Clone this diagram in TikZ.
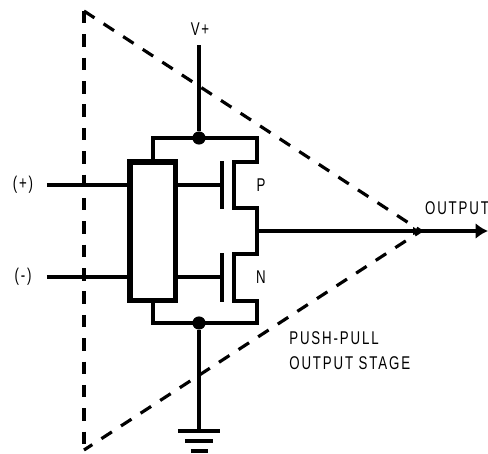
\documentclass[tikz,border=0pt]{standalone}
\usepackage{fontspec}
\setmainfont[FakeStretch=0.72,LetterSpace=10]{Liberation Sans}
\usetikzlibrary{arrows.meta}
\tikzset{
  wire/.style={line width=1.8pt},
  gatebar/.style={line width=2.1pt},
  ampbox/.style={line width=2.9pt},
  stagedash/.style={line width=1.8pt,dash pattern=on 7.1pt off 6.2pt},
  junction/.style={circle,fill=black,inner sep=0pt,minimum size=7.5pt},
  label/.style={inner sep=0pt,font=\fontsize{10.5}{14.2}\selectfont,align=left}
}
\begin{document}
\begin{tikzpicture}[>=latex,x=0.02cm,y=-0.02cm]
\useasboundingbox (0,0) rectangle (488,454);
\coordinate (A1) at (84,11);
\coordinate (A2) at (84,450);
\coordinate (A3) at (421,231);
\coordinate (B1) at (130,162);
\coordinate (B2) at (175.5,300.5);
\coordinate (IP) at (47,185);
\coordinate (IP1) at (130,185);
\coordinate (IN) at (47,277);
\coordinate (IN1) at (130,277);
\coordinate (V1) at (199,45);
\coordinate (Z1) at (178,431);
\coordinate (Z2) at (220,431);
\coordinate (Z3) at (185,441);
\coordinate (Z4) at (213,441);
\coordinate (Z5) at (191,451);
\coordinate (Z6) at (208,451);
\coordinate (Z0) at (199,431);
\coordinate (O0) at (257,231);
\coordinate (O1) at (488,231);
\node[label] (Lv) at (200,29) {V+};
\node[label] (Lp) at (23,185) {(+)};
\node[label] (Ln) at (23,277) {(-)};
\node[label] (Lo) at (457,208) {OUTPUT};
\node[label] (Lpm) at (261,185) {P};
\node[label] (Lnm) at (261,277) {N};
\node[label,anchor=north west] (Ls) at (289,331) {PUSH-PULL\\OUTPUT STAGE};
% output stage outline
\draw[stagedash] (A1) -- (A2);
\draw[stagedash] (A1) -- (A3) -- (A2);
% amplifier
\draw[ampbox,fill=white] (B1) rectangle (B2);
\draw[wire] (IP) -- (IP1);
\draw[wire] (IN) -- (IN1);
% rails
\node[junction] (JP) at (199,138) {};
\node[junction] (JN) at (199,323) {};
\draw[wire] (V1) -- (JP);
\draw[wire] (JN) -- (Z0);
\draw[wire] (153,162) |- (JP.center) -| (257,162) -- (234,162) -- (234,208) -- (257,208)
  -- (257,254) -- (234,254) -- (234,301) -- (257,301) |- (JN.center) -| (153,300.5);
% gates
\draw[wire] (175.5,185) -- (222,185);
\draw[wire] (175.5,277) -- (222,277);
\draw[gatebar] (222,161) -- (222,209);
\draw[gatebar] (222,253) -- (222,302);
% output
\draw[wire,-{Latex[length=7pt,width=9pt]}] (A3) -- (O1);
\draw[wire,-{Latex[length=4.5pt,width=5pt]}] (O0) -- (A3);
% ground
\draw[wire] (Z1) -- (Z2);
\draw[wire] (Z3) -- (Z4);
\draw[wire] (Z5) -- (Z6);
\end{tikzpicture}
\end{document}
